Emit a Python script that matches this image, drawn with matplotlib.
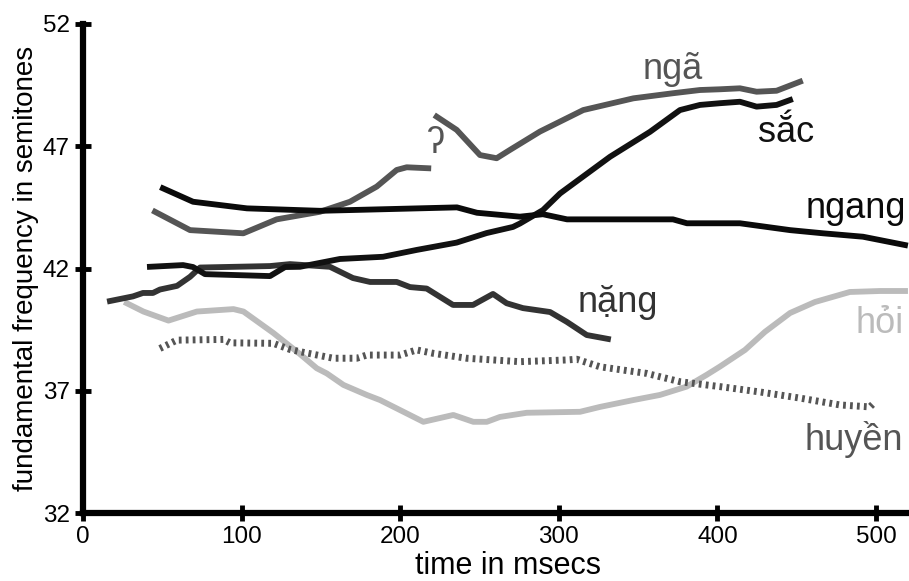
# F0 contours of the six Vietnamese tones

import numpy as np
import matplotlib.pyplot as plt

plt.rcParams['font.family'] = ['Liberation Sans', 'DejaVu Sans']

# ngang (level tone)
ngang_t = [50.4, 69.4, 103.4, 149.4, 168.3, 235.8, 248.4, 275.5, 290.0, 305.2, 372.0, 380.8, 414.2, 445.8, 466.6, 491.8, 518.3]
ngang_f = [45.28, 44.73, 44.46, 44.36, 44.39, 44.50, 44.28, 44.12, 44.22, 44.01, 44.01, 43.85, 43.85, 43.57, 43.44, 43.30, 42.96]

# sac (rising)
sac_t = [42.2, 63.1, 69.4, 76.9, 117.9, 127.4, 136.8, 162.0, 189.2, 210.4, 235.6, 254.5, 271.1, 275.5,
         290.0, 300.8, 332.3, 357.5, 376.4, 389.0, 401.6, 414.2, 424.7, 437.3, 445.8]
sac_f = [42.07, 42.14, 42.06, 41.77, 41.69, 42.06, 42.07, 42.39, 42.48, 42.76, 43.06, 43.45, 43.70, 43.84,
         44.39, 45.07, 46.57, 47.59, 48.48, 48.69, 48.76, 48.82, 48.62, 48.69, 48.89]

# nang (low, glottalised)
nang_t = [17.0, 31.5, 37.8, 44.1, 48.5, 59.3, 67.5, 73.8, 117.9, 130.5, 155.7, 170.2, 181.0, 197.8, 206.2,
          216.7, 233.3, 245.9, 258.5, 267.1, 277.4, 294.5, 305.0, 317.6, 331.0]
nang_f = [40.67, 40.86, 41.00, 41.00, 41.14, 41.29, 41.66, 42.04, 42.10, 42.18, 42.07, 41.61, 41.45, 41.45, 41.24,
          41.18, 40.51, 40.51, 40.96, 40.58, 40.38, 40.22, 39.82, 39.28, 39.12]

# nga (broken by a glottal stop)
nga1_t = [45.4, 67.5, 101.1, 122.1, 149.4, 168.3, 185.2, 197.8, 204.1, 217.7]
nga1_f = [44.32, 43.57, 43.44, 44.01, 44.32, 44.73, 45.35, 46.03, 46.14, 46.10]
nga2_t = [223.0, 235.6, 250.3, 260.8, 269.2, 288.1, 315.4, 347.0, 372.2, 389.0, 401.6, 414.2, 424.7, 437.3, 452.1]
nga2_f = [48.21, 47.67, 46.64, 46.51, 46.85, 47.60, 48.48, 48.96, 49.17, 49.30, 49.33, 49.37, 49.23, 49.27, 49.64]

# hoi (dipping)
hoi_t = [27.6, 38.1, 53.9, 71.8, 94.9, 101.2, 120.1, 136.8, 147.4, 153.7, 164.2, 178.9, 187.3, 199.9, 214.6,
         233.5, 246.1, 254.6, 262.9, 279.8, 313.4, 326.0, 347.0, 363.8, 380.6, 393.2, 401.6, 417.4, 430.0,
         445.8, 461.5, 483.5, 502.5, 518.3]
hoi_f = [40.58, 40.24, 39.87, 40.24, 40.34, 40.24, 39.36, 38.50, 37.92, 37.71, 37.24, 36.83, 36.62, 36.21, 35.73,
         36.01, 35.73, 35.73, 35.93, 36.10, 36.14, 36.34, 36.62, 36.83, 37.17, 37.65, 37.99, 38.67, 39.41,
         40.18, 40.63, 41.04, 41.08, 41.08]

# huyen (low falling)
huyen_t = [48.5, 59.1, 88.5, 92.7, 120.0, 130.5, 136.8, 157.8, 172.6, 178.9, 199.9, 210.4, 220.9, 241.9, 275.5,
           305.0, 311.3, 326.0, 355.4, 376.4, 401.6, 426.9, 452.1, 477.3, 496.2, 498.7]
huyen_f = [38.73, 39.07, 39.10, 38.96, 38.94, 38.69, 38.60, 38.33, 38.33, 38.46, 38.46, 38.67, 38.53, 38.33, 38.19,
           38.26, 38.29, 37.98, 37.71, 37.37, 37.17, 36.95, 36.70, 36.42, 36.34, 36.50]

fig = plt.figure(figsize=(9.09, 5.81), dpi=100)
ax = fig.add_axes([0.0913, 0.117, 0.9087, 0.8417])

lw = 4.2
ax.plot(hoi_t, hoi_f, '-', color='#bbbbbb', linewidth=lw, solid_joinstyle='round')
ax.plot(huyen_t, huyen_f, color='#555555', linewidth=5, linestyle=(0, (0.4, 0.6)), dash_capstyle='butt')
ax.plot(nga1_t, nga1_f, '-', color='#555555', linewidth=lw)
ax.plot(nga2_t, nga2_f, '-', color='#555555', linewidth=lw)
ax.plot(nang_t, nang_f, '-', color='#333333', linewidth=lw)
ax.plot(sac_t, sac_f, '-', color='#111111', linewidth=lw)
ax.plot(ngang_t, ngang_f, '-', color='#0a0a0a', linewidth=lw)

fs = 26
ax.text(372, 49.75, 'ngã', fontsize=fs, color='#555555', ha='center', va='baseline')
ax.text(443, 47.17, 'sắc', fontsize=fs, color='#111111', ha='center', va='baseline')
ax.text(487, 44.07, 'ngang', fontsize=fs, color='#0a0a0a', ha='center', va='baseline')
ax.text(337, 40.22, 'nặng', fontsize=fs, color='#333333', ha='center', va='baseline')
ax.text(502.5, 39.36, 'hỏi', fontsize=fs, color='#bbbbbb', ha='center', va='baseline')
ax.text(486, 34.58, 'huyền', fontsize=fs, color='#555555', ha='center', va='baseline')
ax.text(222, 46.72, 'ʔ', fontsize=fs, color='#555555', ha='center', va='baseline')

ax.set_xlim(0, 520.8)
ax.set_ylim(32, 52)
ax.set_xticks([0, 100, 200, 300, 400, 500])
ax.set_yticks([32, 37, 42, 47, 52])
for s in ['top', 'right']:
    ax.spines[s].set_visible(False)
for s in ['left', 'bottom']:
    ax.spines[s].set_linewidth(4.5)
    ax.spines[s].set_capstyle('projecting')
ax.tick_params(direction='inout', length=11, width=3.5, labelsize=17.5, pad=4)
ax.set_xlabel('time in msecs', fontsize=22)
ax.xaxis.set_label_coords(0.515, -0.078)
ax.set_ylabel('fundamental frequency in semitones', fontsize=20, labelpad=3)

plt.savefig('out.png', dpi=100)
